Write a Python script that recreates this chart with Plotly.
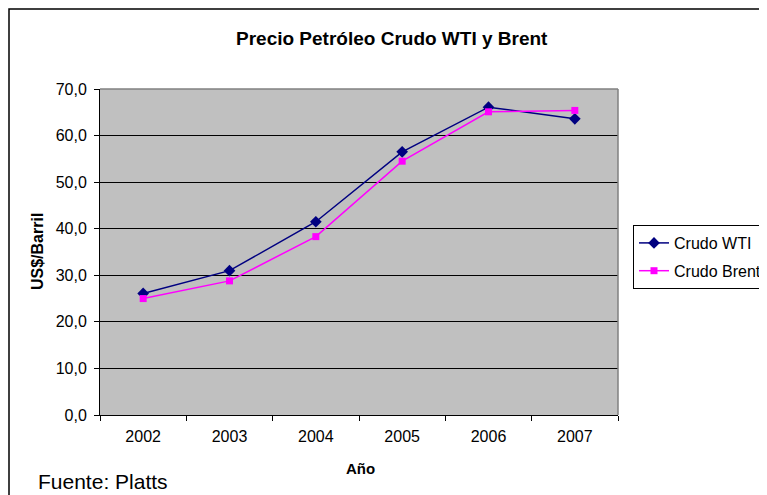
import plotly.graph_objects as go

years = ["2002", "2003", "2004", "2005", "2006", "2007"]
wti = [26.1, 31.0, 41.5, 56.5, 66.1, 63.6]
brent = [25.0, 28.8, 38.3, 54.5, 65.1, 65.4]
y_ticks = [0, 10, 20, 30, 40, 50, 60, 70]

FONT = "Liberation Sans, Arial, sans-serif"

# page body has an 8px margin; plot area in page pixels: x 100..618, y 89..415
OFF = 8
PL, PR, PT, PB = 100, 618, 89, 415
def px(x):
    return (x - PL) / (PR - PL)
def py(y):
    return (PB - y) / (PB - PT)

fig = go.Figure()
fig.add_trace(go.Scatter(
    x=years, y=wti, name="Crudo WTI", mode="lines+markers", legendgroup="a",
    line=dict(color="#000080", width=1.5),
    marker=dict(symbol="diamond", size=9, color="#000080"),
))
fig.add_trace(go.Scatter(
    x=years, y=brent, name="Crudo Brent", mode="lines+markers", legendgroup="b",
    line=dict(color="#FF00FF", width=1.5),
    marker=dict(symbol="square", size=7, color="#FF00FF"),
))

W, H = 767 - OFF, 495 - OFF
fig.update_layout(
    width=W, height=H,
    margin=dict(l=PL - OFF, r=W - (PR - OFF), t=PT - OFF, b=H - (PB - OFF),
                autoexpand=False),
    paper_bgcolor="white", plot_bgcolor="#C0C0C0",
    font=dict(family=FONT, size=16, color="black"),
    separators=",.",
    showlegend=True,
    legend=dict(x=px(633), xanchor="left", y=py(225), yanchor="top",
                bordercolor="black", borderwidth=1, bgcolor="white",
                font=dict(size=16, family=FONT), traceorder="grouped",
                tracegroupgap=4, itemwidth=30),
    xaxis=dict(
        type="category", tickson="boundaries", ticks="outside", ticklen=5,
        tickcolor="black", showline=True, linecolor="black", linewidth=1,
        showgrid=False, zeroline=False, range=[-0.5, 5.5],
        tickfont=dict(size=16), ticklabelstandoff=7,
    ),
    yaxis=dict(
        range=[0, 70], tickvals=y_ticks, tickformat=".1f", ticks="outside",
        ticklen=5, tickcolor="black", showline=True, linecolor="black", linewidth=1,
        showgrid=True, gridcolor="black", gridwidth=1, zeroline=False,
        tickfont=dict(size=16), ticklabelstandoff=4,
    ),
    shapes=[
        dict(type="line", xref="paper", yref="paper", x0=0, x1=1, y0=1, y1=1,
             line=dict(color="#808080", width=1.5), layer="above"),
        dict(type="line", xref="paper", yref="paper", x0=1, x1=1, y0=0, y1=1,
             line=dict(color="#808080", width=1.5), layer="above"),
        dict(type="rect", xref="paper", yref="paper",
             x0=px(9), x1=px(900), y0=py(600), y1=py(9),
             line=dict(color="black", width=1.5), layer="above"),
    ],
    annotations=[
        dict(text="<b>Precio Petróleo Crudo WTI y Brent</b>", xref="paper", yref="paper",
             x=px(392), y=py(38), xanchor="center", yanchor="middle",
             showarrow=False, font=dict(size=19, family=FONT)),
        dict(text="<b>Año</b>", xref="paper", yref="paper",
             x=px(360), y=py(468), xanchor="center", yanchor="middle",
             showarrow=False, font=dict(size=15, family=FONT)),
        dict(text="<b>US$/Barril</b>", xref="paper", yref="paper", textangle=-90,
             x=px(37), y=py(252), xanchor="center", yanchor="middle",
             showarrow=False, font=dict(size=16, family=FONT)),
        dict(text="Fuente: Platts", xref="paper", yref="paper",
             x=px(36), y=py(481), xanchor="left", yanchor="middle",
             showarrow=False, font=dict(size=21, family=FONT)),
    ],
)

fig.write_html("out.html")
